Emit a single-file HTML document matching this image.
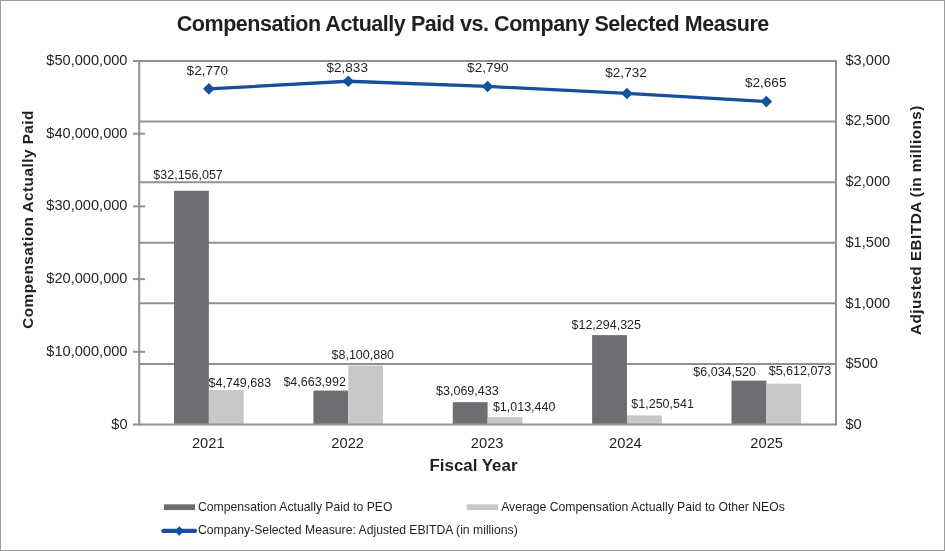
<!DOCTYPE html>
<html><head><meta charset="utf-8"><style>
html,body{margin:0;padding:0;background:#fff;}
body{width:945px;height:551px;overflow:hidden;}
svg{display:block;font-family:"Liberation Sans", sans-serif;will-change:transform;}
</style></head><body>
<svg width="945" height="551" viewBox="0 0 945 551">
<rect x="0" y="0" width="945" height="551" fill="#fff"/>
<rect x="0.5" y="0.5" width="944" height="550" fill="none" stroke="#9b9b9b" stroke-width="1"/>

<text x="472.8" y="30.6" text-anchor="middle" font-size="21.5" letter-spacing="-0.45" font-weight="bold" fill="#231f20">Compensation Actually Paid vs. Company Selected Measure</text>
<line x1="139.20" y1="363.92" x2="836.00" y2="363.92" stroke="#919193" stroke-width="2"/>
<line x1="139.20" y1="303.33" x2="836.00" y2="303.33" stroke="#919193" stroke-width="2"/>
<line x1="139.20" y1="242.75" x2="836.00" y2="242.75" stroke="#919193" stroke-width="2"/>
<line x1="139.20" y1="182.17" x2="836.00" y2="182.17" stroke="#919193" stroke-width="2"/>
<line x1="139.20" y1="121.58" x2="836.00" y2="121.58" stroke="#919193" stroke-width="2"/>
<line x1="139.20" y1="61.00" x2="836.00" y2="61.00" stroke="#919193" stroke-width="2"/>
<rect x="174.04" y="190.73" width="34.84" height="233.77" fill="#6d6e71"/>
<rect x="208.88" y="389.97" width="34.84" height="34.53" fill="#c7c8ca"/>
<rect x="313.40" y="390.59" width="34.84" height="33.91" fill="#6d6e71"/>
<rect x="348.24" y="365.61" width="34.84" height="58.89" fill="#c7c8ca"/>
<rect x="452.76" y="402.19" width="34.84" height="22.31" fill="#6d6e71"/>
<rect x="487.60" y="417.13" width="34.84" height="7.37" fill="#c7c8ca"/>
<rect x="592.12" y="335.12" width="34.84" height="89.38" fill="#6d6e71"/>
<rect x="626.96" y="415.41" width="34.84" height="9.09" fill="#c7c8ca"/>
<rect x="731.48" y="380.63" width="34.84" height="43.87" fill="#6d6e71"/>
<rect x="766.32" y="383.70" width="34.84" height="40.80" fill="#c7c8ca"/>
<line x1="139.20" y1="60.00" x2="139.20" y2="425.50" stroke="#919193" stroke-width="2"/>
<line x1="836.00" y1="60.00" x2="836.00" y2="425.50" stroke="#919193" stroke-width="2"/>
<line x1="133" y1="424.50" x2="837.00" y2="424.50" stroke="#919193" stroke-width="2"/>
<line x1="133" y1="61.00" x2="139.20" y2="61.00" stroke="#919193" stroke-width="2"/>
<line x1="133" y1="351.80" x2="145" y2="351.80" stroke="#919193" stroke-width="2"/>
<line x1="133" y1="279.10" x2="145" y2="279.10" stroke="#919193" stroke-width="2"/>
<line x1="133" y1="206.40" x2="145" y2="206.40" stroke="#919193" stroke-width="2"/>
<line x1="133" y1="133.70" x2="145" y2="133.70" stroke="#919193" stroke-width="2"/>
<text x="127.5" y="429.10" text-anchor="end" font-size="14.6" fill="#231f20">$0</text>
<text x="127.5" y="356.20" text-anchor="end" font-size="14.6" fill="#231f20">$10,000,000</text>
<text x="127.5" y="283.30" text-anchor="end" font-size="14.6" fill="#231f20">$20,000,000</text>
<text x="127.5" y="210.40" text-anchor="end" font-size="14.6" fill="#231f20">$30,000,000</text>
<text x="127.5" y="137.50" text-anchor="end" font-size="14.6" fill="#231f20">$40,000,000</text>
<text x="127.5" y="64.60" text-anchor="end" font-size="14.6" fill="#231f20">$50,000,000</text>
<text x="845.5" y="428.90" font-size="14.6" fill="#231f20">$0</text>
<text x="845.5" y="368.20" font-size="14.6" fill="#231f20">$500</text>
<text x="845.5" y="307.50" font-size="14.6" fill="#231f20">$1,000</text>
<text x="845.5" y="246.80" font-size="14.6" fill="#231f20">$1,500</text>
<text x="845.5" y="186.10" font-size="14.6" fill="#231f20">$2,000</text>
<text x="845.5" y="125.40" font-size="14.6" fill="#231f20">$2,500</text>
<text x="845.5" y="64.70" font-size="14.6" fill="#231f20">$3,000</text>
<polyline points="208.88,88.87 348.24,81.23 487.60,86.44 626.96,93.47 766.32,101.59" fill="none" stroke="#16509b" stroke-width="3.3" stroke-linejoin="round"/>
<path d="M208.88 83.07L214.68 88.87L208.88 94.67L203.08 88.87Z" fill="#16509b"/>
<path d="M348.24 75.43L354.04 81.23L348.24 87.03L342.44 81.23Z" fill="#16509b"/>
<path d="M487.60 80.64L493.40 86.44L487.60 92.24L481.80 86.44Z" fill="#16509b"/>
<path d="M626.96 87.67L632.76 93.47L626.96 99.27L621.16 93.47Z" fill="#16509b"/>
<path d="M766.32 95.79L772.12 101.59L766.32 107.39L760.52 101.59Z" fill="#16509b"/>
<text x="153.30" y="178.50" font-size="12.5" fill="#231f20">$32,156,057</text>
<text x="208.60" y="386.50" font-size="12.5" fill="#231f20">$4,749,683</text>
<text x="283.40" y="385.50" font-size="12.5" fill="#231f20">$4,663,992</text>
<text x="331.50" y="358.80" font-size="12.5" fill="#231f20">$8,100,880</text>
<text x="436.10" y="394.60" font-size="12.5" fill="#231f20">$3,069,433</text>
<text x="492.90" y="410.60" font-size="12.5" fill="#231f20">$1,013,440</text>
<text x="571.50" y="329.20" font-size="12.5" fill="#231f20">$12,294,325</text>
<text x="631.30" y="408.40" font-size="12.5" fill="#231f20">$1,250,541</text>
<text x="693.30" y="375.80" font-size="12.5" fill="#231f20">$6,034,520</text>
<text x="768.70" y="375.00" font-size="12.5" fill="#231f20">$5,612,073</text>
<text x="186.60" y="74.50" font-size="13.55" fill="#231f20">$2,770</text>
<text x="326.50" y="72.00" font-size="13.55" fill="#231f20">$2,833</text>
<text x="467.10" y="72.40" font-size="13.55" fill="#231f20">$2,790</text>
<text x="605.30" y="76.60" font-size="13.55" fill="#231f20">$2,732</text>
<text x="745.00" y="87.10" font-size="13.55" fill="#231f20">$2,665</text>
<text x="208.30" y="447.8" text-anchor="middle" font-size="14.7" fill="#231f20">2021</text>
<text x="347.70" y="447.8" text-anchor="middle" font-size="14.7" fill="#231f20">2022</text>
<text x="487.20" y="447.8" text-anchor="middle" font-size="14.7" fill="#231f20">2023</text>
<text x="625.40" y="447.8" text-anchor="middle" font-size="14.7" fill="#231f20">2024</text>
<text x="766.70" y="447.8" text-anchor="middle" font-size="14.7" fill="#231f20">2025</text>
<text x="473.5" y="470.8" text-anchor="middle" font-size="16.9" font-weight="bold" fill="#231f20">Fiscal Year</text>
<text transform="translate(33.2,219.45) rotate(-90)" text-anchor="middle" font-size="15.3" letter-spacing="0.49" font-weight="bold" fill="#231f20">Compensation Actually Paid</text>
<text transform="translate(921.2,220.1) rotate(-90)" text-anchor="middle" font-size="15.3" letter-spacing="0.475" font-weight="bold" fill="#231f20">Adjusted EBITDA (in millions)</text>
<rect x="164" y="504.3" width="31" height="5.8" fill="#6d6e71"/>
<text x="198" y="510.9" font-size="12.2" fill="#231f20">Compensation Actually Paid to PEO</text>
<rect x="466.7" y="504.3" width="31.4" height="5.8" fill="#c7c8ca"/>
<text x="501.2" y="510.9" font-size="12.2" fill="#231f20">Average Compensation Actually Paid to Other NEOs</text>
<line x1="163.5" y1="530.9" x2="194.9" y2="530.9" stroke="#16509b" stroke-width="4.4" stroke-linecap="round"/>
<path d="M179.3 526.2L184.1 531L179.3 535.8L174.5 531Z" fill="#16509b"/>
<text x="198" y="533.9" font-size="12.2" fill="#231f20">Company-Selected Measure: Adjusted EBITDA (in millions)</text>
</svg>
</body></html>
